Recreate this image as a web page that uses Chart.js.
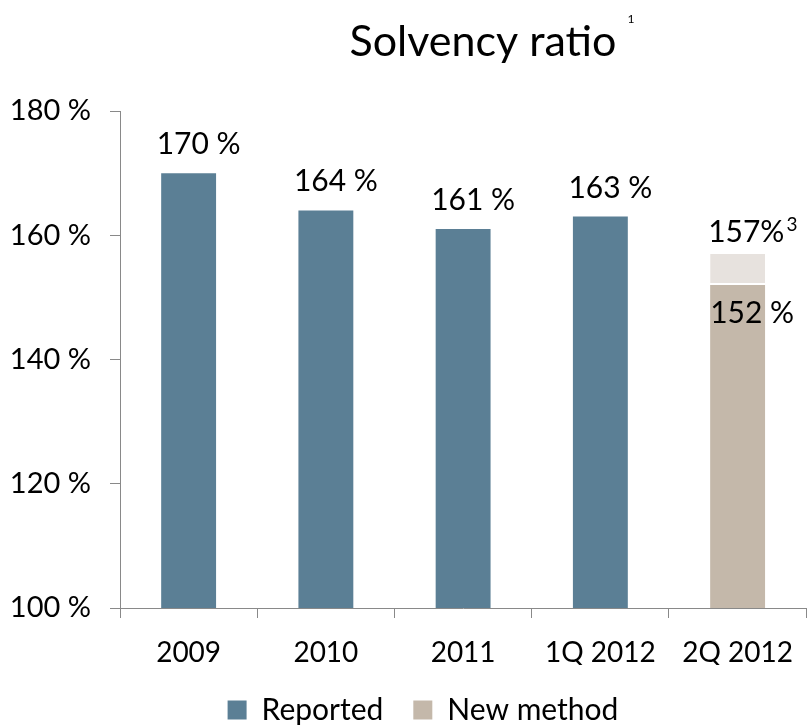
<!DOCTYPE html>
<html>
<head>
<meta charset="utf-8">
<script src="https://cdn.jsdelivr.net/npm/chart.js@4.4.0/dist/chart.umd.min.js"></script>
<style>
  html, body { margin: 0; padding: 0; background: #fff; }
  #wrap { width: 811px; height: 726px; }
</style>
</head>
<body>
<div id="wrap"><canvas id="solvencyChart"></canvas></div>
<script>
// Solvency ratio, in percent
const periods = ['2009', '2010', '2011', '1Q 2012', '2Q 2012'];
const reported = [170, 164, 161, 163, null];
const newMethod = [null, null, null, null, 152];
const adjustedTotal = [null, null, null, null, 157]; // footnote 3 figure
const yTicks = [100, 120, 140, 160, 180];

const FONT = 'Lato, "Open Sans", sans-serif';
const BLUE = '#5b7f95';
const TAN = '#c4b8aa';
const LIGHT = '#e7e2de';

// the light segment sits on top of the new method bar
const adjustedPart = adjustedTotal.map((v, i) => v === null ? null : v - newMethod[i]);

const titlePlugin = {
    id: 'titleText',
    afterDraw(chart) {
        const ctx = chart.ctx;
        ctx.save();
        ctx.fillStyle = '#000';
        ctx.textBaseline = 'alphabetic';
        ctx.textAlign = 'center';
        ctx.font = '43px ' + FONT;
        ctx.fillText('Solvency ratio', 483, 56);
        ctx.font = '12px ' + FONT;
        ctx.fillText('1', 631, 23);
        ctx.restore();
    }
};

// nudge the legend a little right of the canvas centre
const legendShift = {
    id: 'legendShift',
    afterLayout(chart) {
        chart.legend.left += 12;
        chart.legend.right += 12;
    }
};

const labelPlugin = {
    id: 'barLabels',
    afterDatasetsDraw(chart) {
        const ctx = chart.ctx;
        ctx.save();
        ctx.fillStyle = '#000';
        ctx.font = '30px ' + FONT;
        ctx.textBaseline = 'alphabetic';

        chart.getDatasetMeta(0).data.forEach((bar, i) => {
            if (reported[i] === null) return;
            ctx.textAlign = 'center';
            ctx.fillText(reported[i] + ' %', bar.x + 10, bar.y - 19);
        });

        // 152 % is written inside the top of the new method bar
        chart.getDatasetMeta(1).data.forEach((bar, i) => {
            if (newMethod[i] === null) return;
            ctx.textAlign = 'left';
            ctx.fillText(newMethod[i] + ' %', bar.x - bar.width / 2, bar.y + 38);
        });

        chart.getDatasetMeta(2).data.forEach((bar, i) => {
            if (adjustedTotal[i] === null) return;
            const left = bar.x - bar.width / 2 - 2;
            const txt = adjustedTotal[i] + '%';
            ctx.textAlign = 'left';
            ctx.font = '30px ' + FONT;
            ctx.fillText(txt, left, bar.y - 12);
            const w = ctx.measureText(txt).width;
            ctx.font = '19px ' + FONT;
            ctx.fillText('3', left + w + 2, bar.y - 23);
        });
        ctx.restore();
    }
};

const ctx = document.getElementById('solvencyChart').getContext('2d');
const solvencyChart = new Chart(ctx, {
    type: 'bar',
    data: {
        labels: periods,
        datasets: [{
            label: 'Reported',
            data: reported,
            backgroundColor: BLUE,
            barPercentage: 0.4,
            categoryPercentage: 1
        }, {
            label: 'New method',
            data: newMethod,
            backgroundColor: TAN,
            barPercentage: 0.4,
            categoryPercentage: 1
        }, {
            label: 'Adjusted',
            data: adjustedPart,
            backgroundColor: LIGHT,
            borderColor: '#ffffff',
            borderWidth: { top: 0, left: 0, right: 0, bottom: 2 },
            borderSkipped: false,
            barPercentage: 0.4,
            categoryPercentage: 1
        }]
    },
    options: {
        responsive: true,
        maintainAspectRatio: false,
        animation: false,
        layout: {
            padding: { top: 111, left: 11, right: 0, bottom: -9 }
        },
        scales: {
            x: {
                stacked: true,
                grid: {
                    offset: true,
                    drawOnChartArea: false,
                    drawTicks: true,
                    tickLength: 10,
                    color: '#898989'
                },
                border: { display: true, color: '#898989', width: 1 },
                ticks: {
                    color: '#000',
                    padding: 18,
                    font: { family: FONT, size: 28 }
                },
                afterFit(axis) {
                    axis.height = 57;
                }
            },
            y: {
                stacked: true,
                min: 100,
                max: 180,
                afterBuildTicks(axis) {
                    axis.ticks = yTicks.map(v => ({ value: v }));
                },
                afterFit(axis) {
                    axis.width = 109;
                },
                grid: {
                    drawOnChartArea: false,
                    drawTicks: true,
                    tickLength: 10,
                    color: '#898989'
                },
                border: { display: true, color: '#898989', width: 1 },
                ticks: {
                    color: '#000',
                    padding: 19,
                    font: { family: FONT, size: 29 },
                    callback: v => v + ' %'
                }
            }
        },
        plugins: {
            legend: {
                position: 'bottom',
                labels: {
                    color: '#000',
                    boxWidth: 19,
                    boxHeight: 19,
                    padding: 30,
                    font: { family: FONT, size: 30 },
                    filter: item => item.text !== 'Adjusted'
                }
            },
            tooltip: { enabled: false }
        }
    },
    plugins: [titlePlugin, legendShift, labelPlugin]
});
</script>
</body>
</html>
